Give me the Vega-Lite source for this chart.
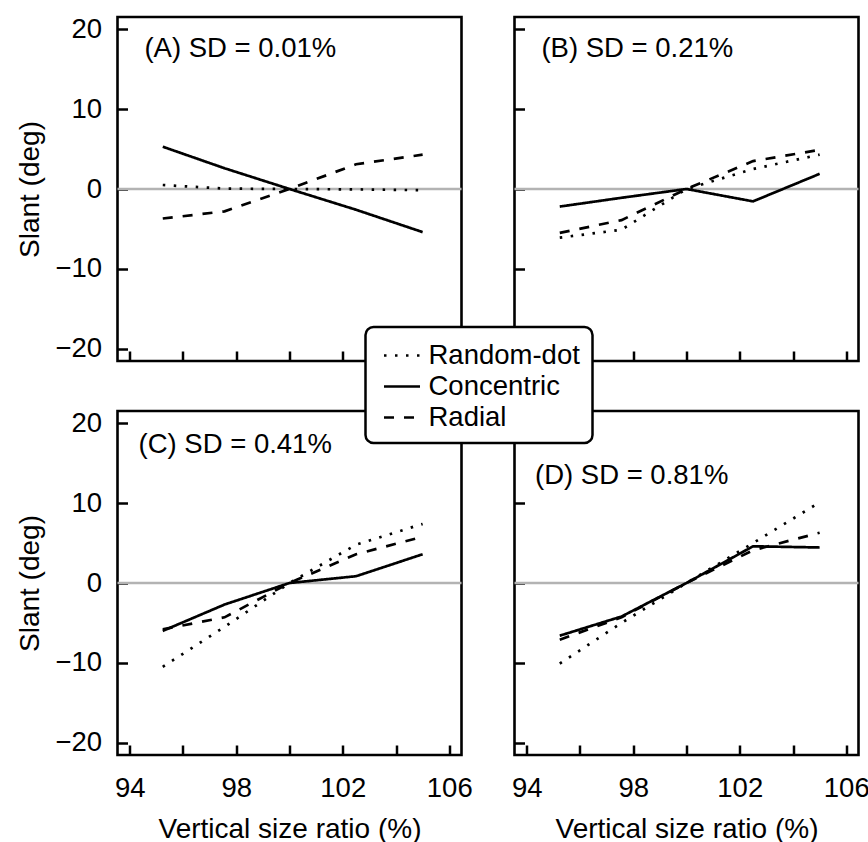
{
  "$schema": "https://vega.github.io/schema/vega-lite/v6.json",
  "padding": {"left": 14.5, "top": 14, "right": 5, "bottom": 0},
  "background": "white",
  "datasets": {
    "pts": [
      {"panel": "A", "stim": "Random-dot", "x": 95.24, "y": 0.5},
      {"panel": "A", "stim": "Random-dot", "x": 97.56, "y": 0.05},
      {"panel": "A", "stim": "Random-dot", "x": 100, "y": 0.0},
      {"panel": "A", "stim": "Random-dot", "x": 102.5, "y": -0.05},
      {"panel": "A", "stim": "Random-dot", "x": 105, "y": -0.15},
      {"panel": "A", "stim": "Concentric", "x": 95.24, "y": 5.3},
      {"panel": "A", "stim": "Concentric", "x": 97.56, "y": 2.6},
      {"panel": "A", "stim": "Concentric", "x": 100, "y": 0.0},
      {"panel": "A", "stim": "Concentric", "x": 102.5, "y": -2.6},
      {"panel": "A", "stim": "Concentric", "x": 105, "y": -5.4},
      {"panel": "A", "stim": "Radial", "x": 95.24, "y": -3.7},
      {"panel": "A", "stim": "Radial", "x": 97.56, "y": -2.8},
      {"panel": "A", "stim": "Radial", "x": 100, "y": 0.0},
      {"panel": "A", "stim": "Radial", "x": 102.5, "y": 3.1},
      {"panel": "A", "stim": "Radial", "x": 105, "y": 4.3},
      {"panel": "B", "stim": "Random-dot", "x": 95.24, "y": -6.1},
      {"panel": "B", "stim": "Random-dot", "x": 97.56, "y": -5.1},
      {"panel": "B", "stim": "Random-dot", "x": 100, "y": 0.0},
      {"panel": "B", "stim": "Random-dot", "x": 102.5, "y": 2.5},
      {"panel": "B", "stim": "Random-dot", "x": 105, "y": 4.3},
      {"panel": "B", "stim": "Concentric", "x": 95.24, "y": -2.2},
      {"panel": "B", "stim": "Concentric", "x": 97.56, "y": -1.1},
      {"panel": "B", "stim": "Concentric", "x": 100, "y": 0.0},
      {"panel": "B", "stim": "Concentric", "x": 102.5, "y": -1.55},
      {"panel": "B", "stim": "Concentric", "x": 105, "y": 1.9},
      {"panel": "B", "stim": "Radial", "x": 95.24, "y": -5.5},
      {"panel": "B", "stim": "Radial", "x": 97.56, "y": -3.9},
      {"panel": "B", "stim": "Radial", "x": 100, "y": 0.0},
      {"panel": "B", "stim": "Radial", "x": 102.5, "y": 3.5},
      {"panel": "B", "stim": "Radial", "x": 105, "y": 4.9},
      {"panel": "C", "stim": "Random-dot", "x": 95.24, "y": -10.5},
      {"panel": "C", "stim": "Random-dot", "x": 97.56, "y": -5.5},
      {"panel": "C", "stim": "Random-dot", "x": 100, "y": 0.0},
      {"panel": "C", "stim": "Random-dot", "x": 102.5, "y": 4.8},
      {"panel": "C", "stim": "Random-dot", "x": 105, "y": 7.4},
      {"panel": "C", "stim": "Concentric", "x": 95.24, "y": -6.0},
      {"panel": "C", "stim": "Concentric", "x": 97.56, "y": -2.7},
      {"panel": "C", "stim": "Concentric", "x": 100, "y": 0.0},
      {"panel": "C", "stim": "Concentric", "x": 102.5, "y": 0.85},
      {"panel": "C", "stim": "Concentric", "x": 105, "y": 3.6},
      {"panel": "C", "stim": "Radial", "x": 95.24, "y": -5.8},
      {"panel": "C", "stim": "Radial", "x": 97.56, "y": -4.3},
      {"panel": "C", "stim": "Radial", "x": 100, "y": 0.0},
      {"panel": "C", "stim": "Radial", "x": 102.5, "y": 3.6},
      {"panel": "C", "stim": "Radial", "x": 105, "y": 5.8},
      {"panel": "D", "stim": "Random-dot", "x": 95.24, "y": -10.1},
      {"panel": "D", "stim": "Random-dot", "x": 97.56, "y": -5.0},
      {"panel": "D", "stim": "Random-dot", "x": 100, "y": 0.0},
      {"panel": "D", "stim": "Random-dot", "x": 102.5, "y": 5.0},
      {"panel": "D", "stim": "Random-dot", "x": 105, "y": 10.1},
      {"panel": "D", "stim": "Concentric", "x": 95.24, "y": -6.6},
      {"panel": "D", "stim": "Concentric", "x": 97.56, "y": -4.2},
      {"panel": "D", "stim": "Concentric", "x": 100, "y": 0.0},
      {"panel": "D", "stim": "Concentric", "x": 102.5, "y": 4.6},
      {"panel": "D", "stim": "Concentric", "x": 105, "y": 4.45},
      {"panel": "D", "stim": "Radial", "x": 95.24, "y": -7.1},
      {"panel": "D", "stim": "Radial", "x": 97.56, "y": -4.3},
      {"panel": "D", "stim": "Radial", "x": 100, "y": 0.0},
      {"panel": "D", "stim": "Radial", "x": 102.5, "y": 4.1},
      {"panel": "D", "stim": "Radial", "x": 105, "y": 6.3}
    ]
  },
  "columns": 2,
  "spacing": {"row": 50, "column": 53},
  "bounds": "flush",
  "resolve": {"scale": {"strokeDash": "independent"}, "legend": {"strokeDash": "independent"}},
  "concat": [
    {
      "width": 344, "height": 344,
      "layer": [
        {"data": {"values": [{}]}, "mark": {"type": "rule", "color": "#b3b3b3", "strokeWidth": 2.5},
         "encoding": {"y": {"datum": 0, "type": "quantitative"}}},
        {"data": {"name": "pts"}, "transform": [{"filter": "datum.panel == 'A'"}],
         "mark": {"type": "line", "color": "black", "strokeWidth": 2.7},
         "encoding": {
           "x": {"field": "x", "type": "quantitative", "scale": {"domain": [93.54, 106.46], "nice": false, "zero": false},
                 "axis": {"values": [94, 96, 98, 100, 102, 104, 106], "labels": false, "title": null}},
           "y": {"field": "y", "type": "quantitative", "scale": {"domain": [-21.55, 21.55], "nice": false, "zero": false},
                 "axis": {"values": [-20, -10, 0, 10, 20], "title": "Slant (deg)", "titleX": -87, "titleY": 172, "titleAngle": 270, "titleAlign": "center", "titleBaseline": "middle"}},
           "strokeDash": {"field": "stim", "type": "nominal", "scale": {"domain": ["Random-dot", "Concentric", "Radial"], "range": [[2.5, 8.5], [1, 0], [10, 10]]}, "legend": null}
         }},
        {"data": {"values": [{}]}, "mark": {"type": "text", "align": "left", "baseline": "alphabetic", "fontSize": 27.5, "font": "Liberation Sans", "color": "black"},
         "encoding": {"x": {"datum": 94.55, "type": "quantitative"}, "y": {"datum": 16.6, "type": "quantitative"}, "text": {"value": "(A) SD = 0.01%"}}}
      ]
    },
    {
      "width": 344, "height": 344,
      "layer": [
        {"data": {"values": [{}]}, "mark": {"type": "rule", "color": "#b3b3b3", "strokeWidth": 2.5},
         "encoding": {"y": {"datum": 0, "type": "quantitative"}}},
        {"data": {"name": "pts"}, "transform": [{"filter": "datum.panel == 'B'"}],
         "mark": {"type": "line", "color": "black", "strokeWidth": 2.7},
         "encoding": {
           "x": {"field": "x", "type": "quantitative", "scale": {"domain": [93.54, 106.46], "nice": false, "zero": false},
                 "axis": {"values": [94, 96, 98, 100, 102, 104, 106], "labels": false, "title": null}},
           "y": {"field": "y", "type": "quantitative", "scale": {"domain": [-21.55, 21.55], "nice": false, "zero": false},
                 "axis": {"values": [-20, -10, 0, 10, 20], "labels": false, "title": null}},
           "strokeDash": {"field": "stim", "type": "nominal", "scale": {"domain": ["Random-dot", "Concentric", "Radial"], "range": [[2.5, 8.5], [1, 0], [10, 10]]}, "legend": null}
         }},
        {"data": {"values": [{}]}, "mark": {"type": "text", "align": "left", "baseline": "alphabetic", "fontSize": 27.5, "font": "Liberation Sans", "color": "black"},
         "encoding": {"x": {"datum": 94.55, "type": "quantitative"}, "y": {"datum": 16.6, "type": "quantitative"}, "text": {"value": "(B) SD = 0.21%"}}}
      ]
    },
    {
      "width": 344, "height": 344,
      "layer": [
        {"data": {"values": [{}]}, "mark": {"type": "rule", "color": "#b3b3b3", "strokeWidth": 2.5},
         "encoding": {"y": {"datum": 0, "type": "quantitative"}}},
        {"data": {"name": "pts"}, "transform": [{"filter": "datum.panel == 'C'"}],
         "mark": {"type": "line", "color": "black", "strokeWidth": 2.7},
         "encoding": {
           "x": {"field": "x", "type": "quantitative", "scale": {"domain": [93.54, 106.46], "nice": false, "zero": false},
                 "axis": {"values": [94, 96, 98, 100, 102, 104, 106], "labelExpr": "datum.value % 4 == 2 ? datum.label : ''", "title": "Vertical size ratio (%)", "titleY": 82, "titleBaseline": "alphabetic"}},
           "y": {"field": "y", "type": "quantitative", "scale": {"domain": [-21.55, 21.55], "nice": false, "zero": false},
                 "axis": {"values": [-20, -10, 0, 10, 20], "title": "Slant (deg)", "titleX": -87, "titleY": 172, "titleAngle": 270, "titleAlign": "center", "titleBaseline": "middle"}},
           "strokeDash": {"field": "stim", "type": "nominal", "scale": {"domain": ["Random-dot", "Concentric", "Radial"], "range": [[2.5, 8.5], [1, 0], [10, 10]]}, "legend": null}
         }},
        {"data": {"values": [{}]}, "mark": {"type": "text", "align": "left", "baseline": "alphabetic", "fontSize": 27.5, "font": "Liberation Sans", "color": "black"},
         "encoding": {"x": {"datum": 94.33, "type": "quantitative"}, "y": {"datum": 16.3, "type": "quantitative"}, "text": {"value": "(C) SD = 0.41%"}}}
      ]
    },
    {
      "width": 344, "height": 344,
      "layer": [
        {"data": {"values": [{}]}, "mark": {"type": "rule", "color": "#b3b3b3", "strokeWidth": 2.5},
         "encoding": {"y": {"datum": 0, "type": "quantitative"}}},
        {"data": {"name": "pts"}, "transform": [{"filter": "datum.panel == 'D'"}],
         "mark": {"type": "line", "color": "black", "strokeWidth": 2.7},
         "encoding": {
           "x": {"field": "x", "type": "quantitative", "scale": {"domain": [93.54, 106.46], "nice": false, "zero": false},
                 "axis": {"values": [94, 96, 98, 100, 102, 104, 106], "labelExpr": "datum.value % 4 == 2 ? datum.label : ''", "title": "Vertical size ratio (%)", "titleY": 82, "titleBaseline": "alphabetic"}},
           "y": {"field": "y", "type": "quantitative", "scale": {"domain": [-21.55, 21.55], "nice": false, "zero": false},
                 "axis": {"values": [-20, -10, 0, 10, 20], "labels": false, "title": null}},
           "strokeDash": {"field": "stim", "type": "nominal", "scale": {"domain": ["Random-dot", "Concentric", "Radial"], "range": [[2.5, 8.5], [1, 0], [10, 10]]},
             "legend": {"orient": "none", "legendX": -149, "legendY": -84, "title": null, "fillColor": "white", "strokeColor": "black", "cornerRadius": 8, "padding": 12,
                        "symbolType": "M-1.2,0H1.2", "symbolSize": 900, "symbolStrokeWidth": 2.7, "symbolStrokeColor": "black", "symbolFillColor": "transparent", "symbolOffset": 8,
                        "labelFont": "Liberation Sans", "labelFontSize": 27.5, "labelColor": "black", "labelOffset": 10, "rowPadding": 1, "labelLimit": 400}}
         }},
        {"data": {"values": [{}]}, "mark": {"type": "text", "align": "left", "baseline": "alphabetic", "fontSize": 27.5, "font": "Liberation Sans", "color": "black"},
         "encoding": {"x": {"datum": 94.31, "type": "quantitative"}, "y": {"datum": 12.46, "type": "quantitative"}, "text": {"value": "(D) SD = 0.81%"}}}
      ]
    }
  ],
  "config": {
    "font": "Liberation Sans",
    "view": {"stroke": "black", "strokeWidth": 2.6},
    "legend": {"strokeWidth": 2.5},
    "axis": {
      "domain": false, "grid": false, "ticks": true, "tickColor": "black", "tickWidth": 2.5, "tickSize": -10,
      "labelFont": "Liberation Sans", "labelFontSize": 27.5, "labelColor": "black", "labelFlush": false, "labelOverlap": false,
      "titleFont": "Liberation Sans", "titleFontSize": 28, "titleFontWeight": "normal", "titleColor": "black"
    },
    "axisX": {"labelPadding": 29},
    "axisY": {"labelPadding": 26}
  }
}
